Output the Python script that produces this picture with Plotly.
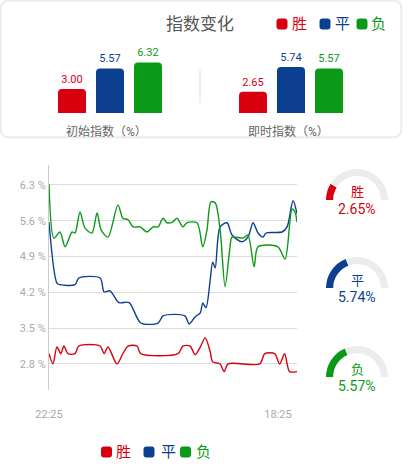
import plotly.graph_objects as go

# --- data ---
names = ['胜', '平', '负']
colors = ['#d8000f', '#0c3f8f', '#0b9a17']
initial_index = [3.00, 5.57, 6.32]
live_index = [2.65, 5.74, 5.57]

red_t = [0, 1.6, 3.2, 4.8, 6, 7.7, 10.5, 12, 20.6, 22.2, 23.8, 27.4, 29.8, 31.9, 35.5, 37,
         52, 54, 56.9, 58.9, 61, 63, 65, 66, 69, 70.6, 72.2, 85, 87, 91, 93, 95, 97, 100]
red_v = [3.00, 2.80, 3.13, 3.00, 3.15, 3.00, 3.00, 3.15, 3.15, 3.00, 3.13, 2.80, 3.00, 3.15, 3.15, 3.00,
         3.00, 3.15, 3.15, 2.98, 3.13, 3.31, 3.04, 2.84, 2.80, 2.65, 2.80, 2.80, 3.00, 3.00, 2.80, 3.00, 2.65, 2.65]

blue_t = [0, 3.2, 4.4, 10.5, 12, 20.6, 22.2, 24.6, 28.2, 32.3, 37, 44, 46, 54.8, 56.5, 58.9, 61, 62,
          63.3, 65, 66, 67, 69, 71.8, 73.8, 77.8, 80.2, 82.3, 84.3, 86.3, 87.5, 94, 96, 98.4, 100]
blue_v = [5.57, 4.38, 4.35, 4.35, 4.48, 4.48, 4.21, 4.23, 4.00, 4.00, 3.60, 3.60, 3.74, 3.74, 3.58, 3.72, 3.80, 3.99,
          3.90, 4.44, 4.79, 4.68, 5.48, 5.56, 5.32, 5.19, 5.28, 5.56, 5.36, 5.28, 5.36, 5.38, 5.48, 5.99, 5.74]

green_t = [0, 2, 4.4, 6.5, 9.3, 10.5, 12.5, 14.5, 17.3, 19.4, 21, 23.8, 27.8, 29.8, 31.9, 33.9, 36.7, 39.5,
           42, 44, 46, 47.6, 50, 51.6, 54, 55.6, 59.7, 62, 63.7, 65.3, 67, 69, 71, 73, 73.8, 78.2, 80.2,
           82.7, 84.3, 92.3, 95.2, 98, 99.2, 100]
green_v = [6.32, 5.26, 5.38, 5.09, 5.38, 5.36, 5.77, 5.46, 5.36, 5.75, 5.42, 5.28, 5.91, 5.65, 5.62, 5.48, 5.48, 5.38,
           5.48, 5.48, 5.65, 5.56, 5.58, 5.65, 5.48, 5.56, 5.56, 5.09, 5.42, 5.97, 5.95, 5.42, 4.31, 5.09, 5.28, 5.26, 5.32,
           4.70, 5.09, 5.09, 4.85, 5.83, 5.77, 5.57]

x_tickvals = [0, 92.3]
x_ticktext = ['22:25', '18:25']
y_tickvals = [2.8, 3.5, 4.2, 4.9, 5.6, 6.3]
y_ticktext = ['%.1f %%' % v for v in y_tickvals]

gauge_max = 15

# --- page geometry (pixels -> paper) ---
W, H = 408, 473
FONT = 'Roboto, "Noto Sans CJK SC", sans-serif'


def px(x):
    return x / W


def py(y):
    return 1 - y / H


def rounded_rect(x0, y0, x1, y1, r):
    return ('M {a},{b} L {c},{b} Q {d},{b} {d},{e} L {d},{f} Q {d},{g} {c},{g} '
            'L {a},{g} Q {h},{g} {h},{f} L {h},{e} Q {h},{b} {a},{b} Z').format(
        a=px(x0 + r), b=py(y0), c=px(x1 - r), d=px(x1), e=py(y0 + r),
        f=py(y1 - r), g=py(y1), h=px(x0))


fig = go.Figure()

# bars
for vals, xa, ya in [(initial_index, 'x', 'y'), (live_index, 'x2', 'y2')]:
    fig.add_trace(go.Bar(
        x=names, y=vals, xaxis=xa, yaxis=ya,
        marker=dict(color=colors, line=dict(width=0)),
        texttemplate='%{y:.2f}', textposition='outside',
        textfont=dict(color=colors, size=11),
        cliponaxis=False, showlegend=False, hoverinfo='skip'))

# lines
for t, v, c in [(red_t, red_v, colors[0]), (blue_t, blue_v, colors[1]), (green_t, green_v, colors[2])]:
    fig.add_trace(go.Scatter(
        x=t, y=v, xaxis='x3', yaxis='y3', mode='lines',
        line=dict(color=c, width=1.4, shape='spline', smoothing=0.8),
        showlegend=False, hoverinfo='skip'))

# gauges
gauge_cy = [200, 288, 377]
annotations = []
for name, val, c, cy in zip(names, live_index, colors, gauge_cy):
    fig.add_trace(go.Pie(
        values=[val, gauge_max - val, gauge_max], sort=False,
        direction='clockwise', rotation=-90, hole=0.77,
        marker=dict(colors=[c, '#ececec', 'rgba(0,0,0,0)'], line=dict(width=0)),
        textinfo='none', hoverinfo='skip', showlegend=False,
        domain=dict(x=[px(357 - 31), px(357 + 31)], y=[py(cy + 31), py(cy - 31)])))
    annotations.append(dict(text=name, x=px(357), y=py(cy - 8), font=dict(size=13, color=c)))
    annotations.append(dict(text='%.2f%%' % val, x=px(357), y=py(cy + 9), font=dict(size=14, color=c)))

# titles
annotations.append(dict(text='指数变化', x=px(200), y=py(24), font=dict(size=17, color='#555')))
annotations.append(dict(text='初始指数（%）', x=px(106), y=py(131), font=dict(size=12, color='#666')))
annotations.append(dict(text='即时指数（%）', x=px(288), y=py(131), font=dict(size=12, color='#666')))

shapes = [
    dict(type='path', path=rounded_rect(1, 1, 401, 137, 8), xref='paper', yref='paper',
         line=dict(color='#f2f2f2', width=3), fillcolor='white', layer='below'),
    dict(type='path', path=rounded_rect(1, 1, 401, 137, 8), xref='paper', yref='paper',
         line=dict(color='#e4e4e4', width=1), fillcolor='white', layer='below'),
    dict(type='line', xref='paper', yref='paper', x0=px(200), x1=px(200), y0=py(70), y1=py(103),
         line=dict(color='#dddddd', width=1)),
]

# legends (top and bottom)
top_legend = [282, 325, 362]
top_text = [299, 342, 378]
bottom_legend = [106.5, 149, 185.5]
bottom_text = [124, 168, 203]
for mx, tx, bx, btx, name, c in zip(top_legend, top_text, bottom_legend, bottom_text, names, colors):
    for sx, sy in [(mx, 24), (bx, 452)]:
        shapes.append(dict(type='path', xref='paper', yref='paper',
                           path=rounded_rect(sx - 5.5, sy - 5.5, sx + 5.5, sy + 5.5, 3),
                           fillcolor=c, line=dict(width=0)))
    annotations.append(dict(text=name, x=px(tx), y=py(24), font=dict(size=15, color=c)))
    annotations.append(dict(text=name, x=px(btx), y=py(452), font=dict(size=15, color=c)))

for a in annotations:
    a.update(xref='paper', yref='paper', xanchor='center', yanchor='middle', showarrow=False)

hidden = dict(visible=False, fixedrange=True, automargin=False)
fig.update_layout(
    template='none',
    width=W, height=H, autosize=False,
    margin=dict(l=0, r=0, t=0, b=0, pad=0),
    paper_bgcolor='white', plot_bgcolor='rgba(0,0,0,0)',
    font=dict(family=FONT, color='#666'),
    barcornerradius=4, bargap=10 / 38,
    hovermode=False,
    xaxis=dict(domain=[px(53), px(167)], showticklabels=False, showgrid=False, zeroline=False,
               showline=False, ticks='', automargin=False),
    yaxis=dict(domain=[py(113), py(57)], range=[0, 7], **hidden),
    xaxis2=dict(domain=[px(234), px(348)], anchor='y2', showticklabels=False, showgrid=False,
                zeroline=False, showline=False, ticks='', automargin=False),
    yaxis2=dict(domain=[py(113), py(57)], range=[0, 7], anchor='x2', **hidden),
    xaxis3=dict(domain=[px(49), px(297)], anchor='y3', range=[0, 100], showgrid=False, zeroline=False,
                showline=False, ticks='', tickvals=x_tickvals, ticktext=x_ticktext,
                tickfont=dict(size=11, color='#aaaaaa'), ticklabelstandoff=16, automargin=False),
    yaxis3=dict(domain=[py(390), py(165)], anchor='x3', range=[2.29, 6.69],
                tickmode='array', tickvals=y_tickvals, ticktext=y_ticktext,
                tickfont=dict(size=11, color='#aaaaaa'),
                showgrid=True, gridcolor='#dddddd', gridwidth=1, zeroline=False,
                showline=True, linecolor='#cccccc', linewidth=1, ticks='', automargin=False),
    annotations=annotations,
    shapes=shapes,
)

# the page's default body margin would push the figure out of the window
fig.write_html("out.html", config={'displayModeBar': False},
               post_script="document.body.style.margin='0';")
